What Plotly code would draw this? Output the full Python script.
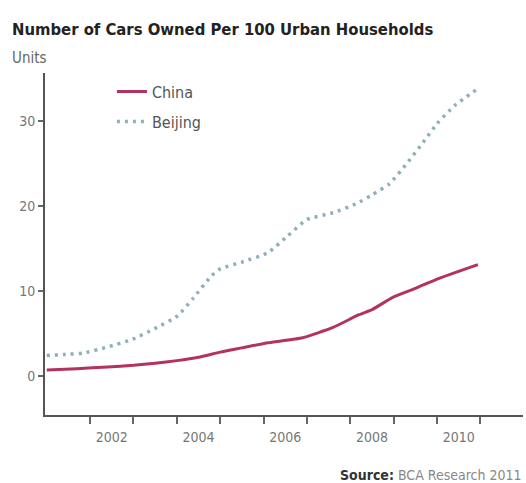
import plotly.graph_objects as go

# Data (x in decimal years)
china_x = [2001.0, 2001.7, 2002.4, 2003.0, 2003.5, 2004.0, 2004.5, 2005.0, 2005.5, 2006.1, 2006.9, 2007.6, 2008.2, 2008.5, 2009.0, 2009.5, 2010.0, 2010.94]
china_y = [0.7, 0.85, 1.05, 1.25, 1.5, 1.8, 2.2, 2.8, 3.3, 3.9, 4.5, 5.7, 7.2, 7.8, 9.3, 10.3, 11.4, 13.1]

beijing_x = [2001.0, 2001.5, 2001.85, 2002.4, 2002.97, 2003.5, 2004.0, 2004.37, 2004.8, 2005.0, 2005.5, 2006.1, 2006.56, 2007.0, 2007.6, 2008.15, 2008.5, 2008.9, 2009.3, 2009.65, 2010.0, 2010.4, 2010.94]
beijing_y = [2.4, 2.55, 2.7, 3.4, 4.3, 5.6, 7.0, 9.1, 11.8, 12.6, 13.4, 14.5, 16.5, 18.4, 19.2, 20.3, 21.3, 22.6, 25.0, 27.3, 29.7, 31.8, 33.8]

year_labels = ["2002", "2004", "2006", "2008", "2010"]
label_pos = [2002.5, 2004.5, 2006.5, 2008.5, 2010.5]
tick_pos = [2002, 2003, 2004, 2005, 2006, 2007, 2008, 2009, 2010, 2011]
y_ticks = [0, 10, 20, 30]

font_narrow = "Liberation Sans Narrow, DejaVu Sans Condensed, sans-serif"

fig = go.Figure()
fig.add_trace(go.Scatter(x=china_x, y=china_y, mode="lines", name="China", legendgroup="a",
                         line=dict(color="#b3325e", width=3, shape="spline", smoothing=0.5)))
fig.add_trace(go.Scatter(x=beijing_x, y=beijing_y, mode="lines", name="Beijing", legendgroup="b",
                         line=dict(color="#8fb0b8", width=3.5, dash="3px,5px", shape="spline", smoothing=0.5)))

fig.update_layout(
    width=526, height=483,
    margin=dict(l=45, r=3, t=73, b=68),
    paper_bgcolor="white", plot_bgcolor="white",
    showlegend=True,
    legend=dict(x=0.14, y=0.995, xanchor="left", yanchor="top",
                bgcolor="rgba(0,0,0,0)",
                font=dict(family=font_narrow, size=16, color="#555555"),
                itemwidth=30, tracegroupgap=6),
    xaxis=dict(range=[2000.96, 2011.98], showgrid=False, zeroline=False,
               showline=True, linecolor="#555555", linewidth=2,
               tickmode="array", tickvals=label_pos, ticktext=year_labels,
               ticks="", ticklabelstandoff=8,
               tickfont=dict(family=font_narrow, size=14, color="#777777"),
               minor=dict(tickmode="array", tickvals=tick_pos, ticks="outside",
                          ticklen=7, tickwidth=2, tickcolor="#666666"),
               fixedrange=True),
    yaxis=dict(range=[-4.6, 35.65], showgrid=False, zeroline=False,
               showline=True, linecolor="#555555", linewidth=2,
               tickmode="array", tickvals=y_ticks, ticks="outside",
               ticklen=5, tickwidth=2, tickcolor="#666666",
               tickfont=dict(family=font_narrow, size=14, color="#777777"),
               fixedrange=True),
)

fig.add_annotation(text="<b>Number of Cars Owned Per 100 Urban Households</b>",
                   xref="paper", yref="paper", x=-0.073, y=1.0, xanchor="left", yanchor="bottom",
                   yshift=32, showarrow=False,
                   font=dict(family=font_narrow, size=16.5, color="#222222"))
fig.add_annotation(text="Units", xref="paper", yref="paper", x=-0.073, y=1.0,
                   xanchor="left", yanchor="bottom", yshift=4, showarrow=False,
                   font=dict(family=font_narrow, size=15, color="#666666"))
fig.add_annotation(text="<b>Source:</b> <span style='color:#888888'>BCA Research 2011</span>",
                   xref="paper", yref="paper", x=1.0, y=0, xanchor="right", yanchor="top",
                   yshift=-50, xshift=1, showarrow=False,
                   font=dict(family=font_narrow, size=14, color="#333333"))

fig.write_html("out.html")
